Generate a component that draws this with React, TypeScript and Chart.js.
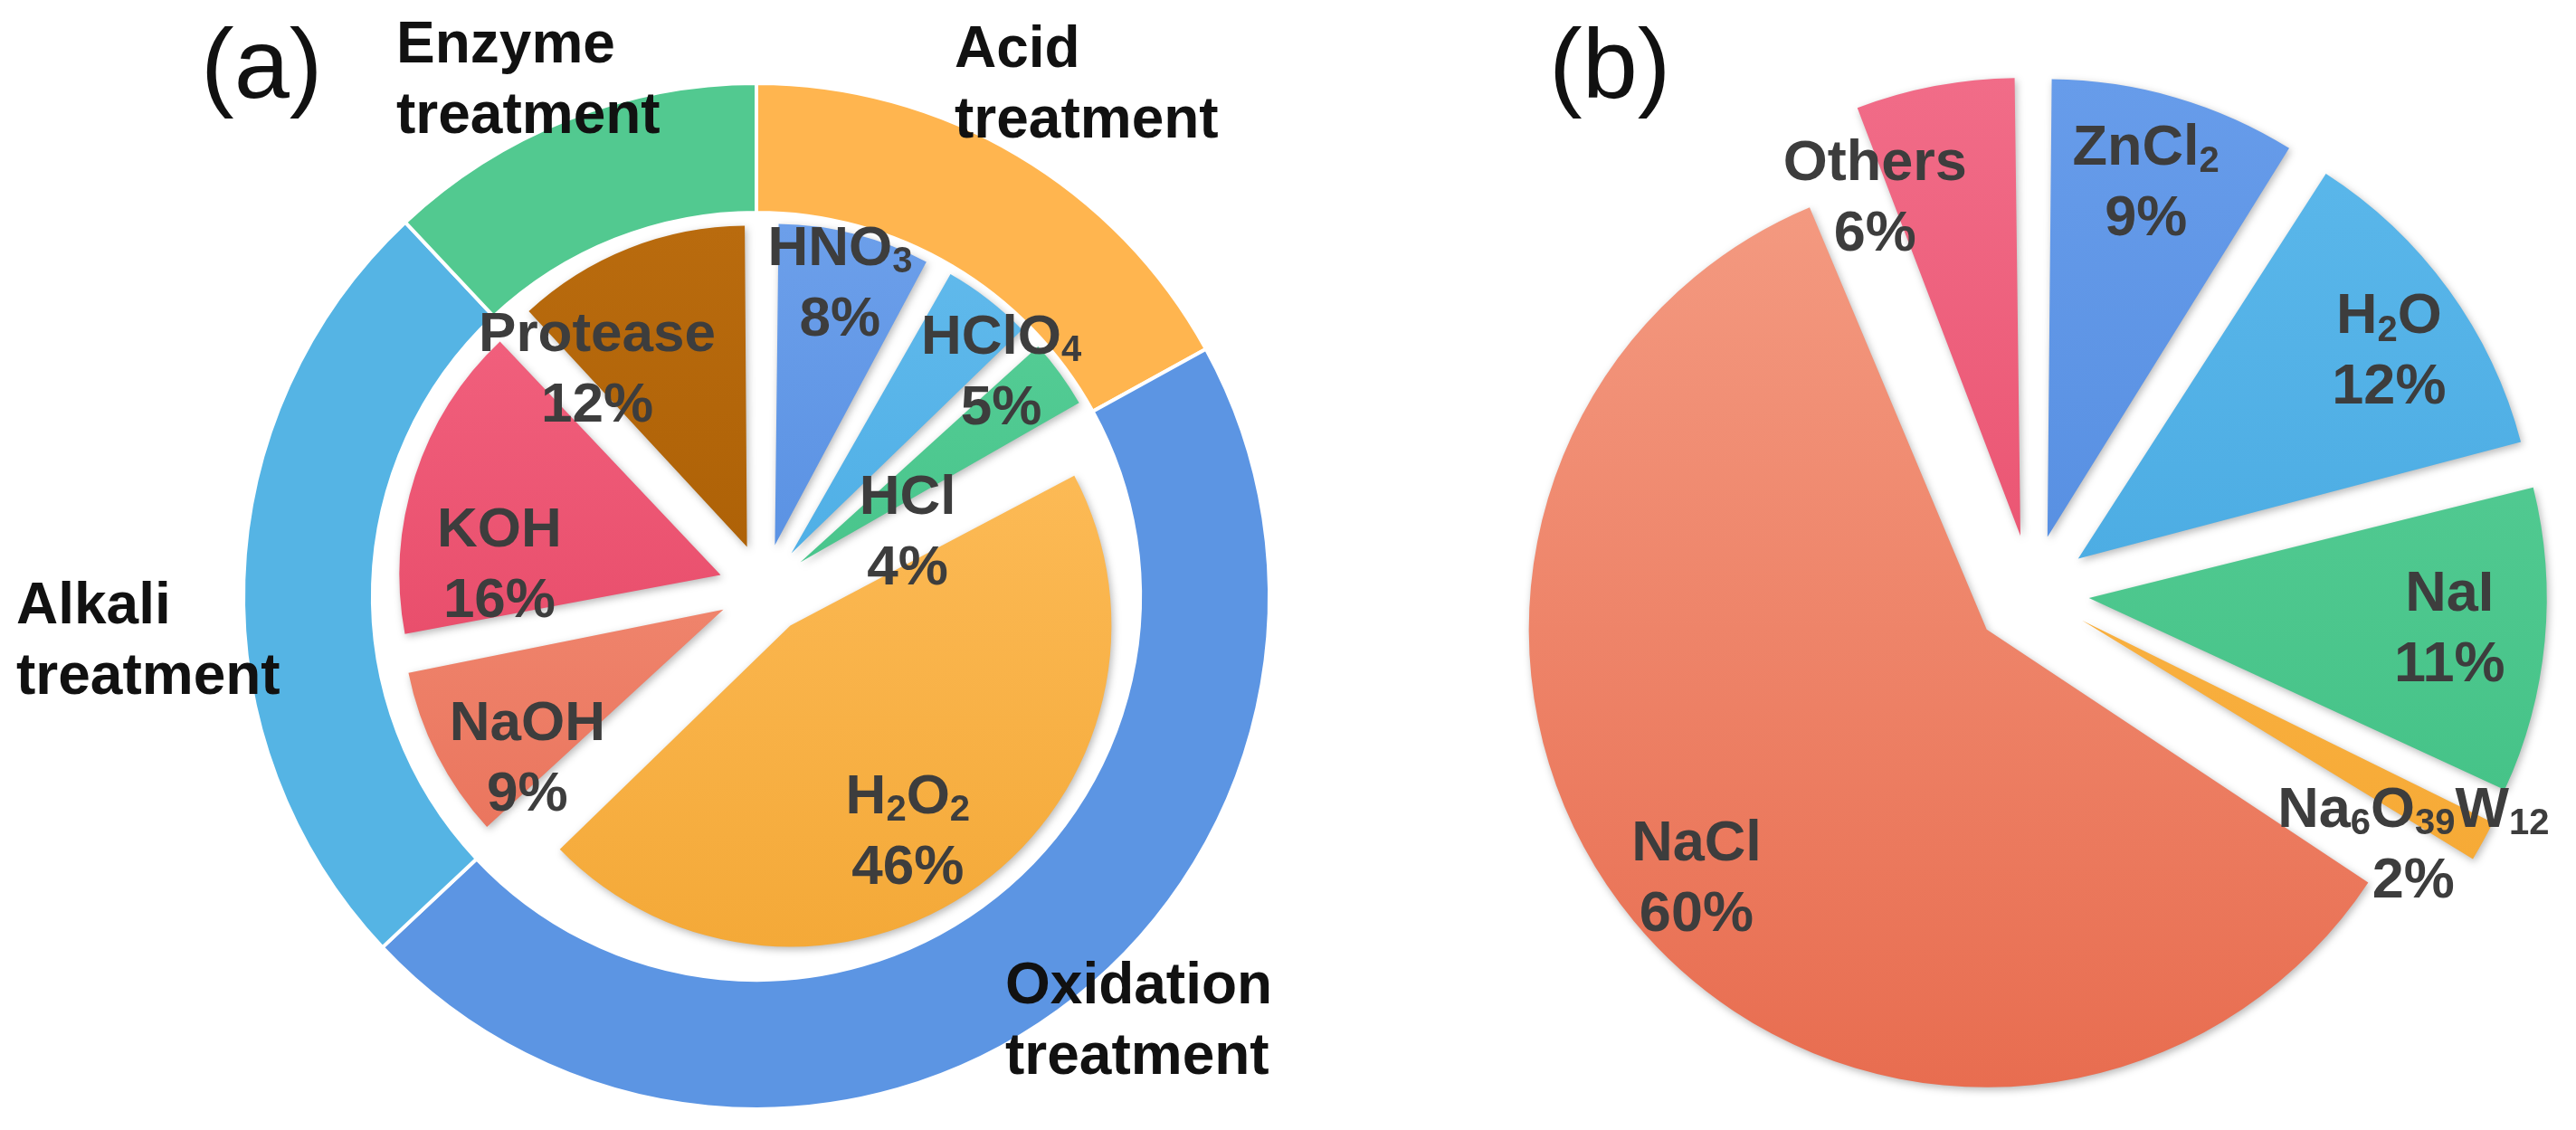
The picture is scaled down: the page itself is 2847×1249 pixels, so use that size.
import React, { useEffect, useRef } from "react";
import { Chart, registerables } from "chart.js";

Chart.register(...registerables);

const PAGE_W = 2847;
const PAGE_H = 1249;
const FONT = '"Liberation Sans", Arial, Helvetica, sans-serif';

// ---------------- data : panel (a) ----------------
const treatmentNames = ["Acid", "Oxidation", "Alkali", "Enzyme"];
const treatmentValues = [17, 46, 25, 12];
const reagentNames = ["HNO3", "HClO4", "HCl", "H2O2", "NaOH", "KOH", "Protease"];
const reagentValues = [8, 5, 4, 46, 9, 16, 12];

// ---------------- data : panel (b) ----------------
const solventNames = ["ZnCl2", "H2O", "NaI", "Na6O39W12", "NaCl", "Others"];
const solventValues = [9, 12, 11, 2, 60, 6];

const panelTitles = ["(a)", "(b)"];

// ---------------- styles ----------------
const ringColors = ["#FFB54F", "#5C95E3", "#55B4E4", "#52C990"];
const reagentColors = [
  ["#6C9FEA", "#4A86DD"],
  ["#62BAEC", "#3DA5E0"],
  ["#58CF98", "#3ABB80"],
  ["#FFC060", "#F4A938"],
  ["#F6987F", "#E86F58"],
  ["#F36481", "#E2405E"],
  ["#B96B0E", "#A45900"],
];
const solventColors = [
  ["#679CEA", "#4A85DB"],
  ["#5CB8EB", "#3EA2DC"],
  ["#5CD09A", "#3DBE81"],
  ["#FDBA50", "#F4A52E"],
  ["#F49B82", "#E86D50"],
  ["#F16C88", "#E5415F"],
];

// label placement (radial fraction of radius, angular nudge in degrees)
const reagentPlace = [
  { lr: 0.85, dA: -0.6 },
  { lr: 0.87, dA: 10.9 },
  { lr: 0.35, dA: 18.7 },
  { lr: 0.73, dA: 5.9 },
  { lr: 0.76, dA: -9.6 },
  { lr: 0.69, dA: -14.6 },
  { lr: 0.73, dA: -18.1 },
];
const solventPlace = [
  { lr: 0.81, dA: -0.8 },
  { lr: 0.82, dA: 1.9 },
  { lr: 0.79, dA: -1.1 },
  { lr: 0.87, dA: 4.9 },
  { lr: 0.83, dA: -0.6 },
  { lr: 0.81, dA: -12.3 },
];
// ring category labels: left edge / first baseline relative to ring centre
const ringLabelPlace = [
  { dx: 219, dy: -585 },
  { dx: 275, dy: 450 },
  { dx: -818, dy: 30 },
  { dx: -398, dy: -590 },
];

const OFFSET_DIV = 4; // chart.js v4 translates arcs by offset / 4

function padFor(cx: number, cy: number) {
  const s = Math.min(cx, PAGE_W - cx, cy, PAGE_H - cy);
  return { left: cx - s, right: PAGE_W - cx - s, top: cy - s, bottom: PAGE_H - cy - s };
}

function parts(s: string, chem: boolean) {
  if (!chem) return [{ t: s, sub: false }];
  return s
    .split(/(\d+)/)
    .filter((t) => t.length > 0)
    .map((t) => ({ t, sub: /^\d+$/.test(t) }));
}

function drawRich(
  ctx: CanvasRenderingContext2D,
  s: string,
  chem: boolean,
  cx: number,
  baseline: number,
  fs: number,
  color: string
) {
  const main = `bold ${fs}px ${FONT}`;
  const subF = `bold ${Math.round(fs * 0.64)}px ${FONT}`;
  const ps = parts(s, chem);
  let w = 0;
  ps.forEach((p) => {
    ctx.font = p.sub ? subF : main;
    w += ctx.measureText(p.t).width;
  });
  let x = cx - w / 2;
  ctx.textAlign = "left";
  ctx.textBaseline = "alphabetic";
  ctx.fillStyle = color;
  ps.forEach((p) => {
    ctx.font = p.sub ? subF : main;
    ctx.fillText(p.t, x, baseline + (p.sub ? fs * 0.13 : 0));
    x += ctx.measureText(p.t).width;
  });
}

function arcGeom(arc: any) {
  const p = arc.getProps(["x", "y", "startAngle", "endAngle", "outerRadius"], true);
  const off = (arc.options.offset || 0) / OFFSET_DIV;
  const circ = p.endAngle - p.startAngle;
  const fix = 1 - Math.sin(Math.min(Math.PI, circ));
  const mid = (p.startAngle + p.endAngle) / 2;
  return {
    ax: p.x + Math.cos(mid) * off,
    ay: p.y + Math.sin(mid) * off,
    R: p.outerRadius + off * fix,
    mid,
  };
}

// keeps every exploded slice at the same radius
const keepRadiusPlugin = {
  id: "keepRadius",
  afterDatasetUpdate(chart: any, args: any) {
    const meta = chart.getDatasetMeta(args.index);
    meta.data.forEach((arc: any) => {
      const off = ((arc.options && arc.options.offset) || 0) / OFFSET_DIV;
      if (!off) return;
      const circ = arc.endAngle - arc.startAngle;
      const fix = 1 - Math.sin(Math.min(Math.PI, circ));
      arc.outerRadius = arc.outerRadius - off * fix;
    });
  },
};

const shadowPlugin = {
  id: "softShadow",
  beforeDatasetDraw(chart: any, _a: any, opts: any) {
    if (!opts || !opts.on) return;
    const ctx = chart.ctx;
    ctx.save();
    ctx.shadowColor = "rgba(0,0,0,0.28)";
    ctx.shadowBlur = 9;
    ctx.shadowOffsetX = 2;
    ctx.shadowOffsetY = 3;
  },
  afterDatasetDraw(chart: any, _a: any, opts: any) {
    if (!opts || !opts.on) return;
    chart.ctx.restore();
  },
};

const sliceLabelPlugin = {
  id: "sliceLabels",
  afterDatasetsDraw(chart: any, _a: any, opts: any) {
    if (!opts || !opts.names) return;
    const ctx = chart.ctx;
    const meta = chart.getDatasetMeta(0);
    const values = chart.data.datasets[0].data;
    ctx.save();
    meta.data.forEach((arc: any, i: number) => {
      const g = arcGeom(arc);
      const pl = opts.place[i];
      const a = g.mid + (pl.dA * Math.PI) / 180;
      const cx = g.ax + Math.cos(a) * pl.lr * g.R;
      const cy = g.ay + Math.sin(a) * pl.lr * g.R;
      const capHalf = opts.fs * 0.36;
      drawRich(ctx, opts.names[i], true, cx, cy - opts.gap / 2 + capHalf, opts.fs, opts.color);
      drawRich(ctx, `${values[i]}%`, false, cx, cy + opts.gap / 2 + capHalf, opts.fs, opts.color);
    });
    ctx.restore();
  },
};

const freeTextPlugin = {
  id: "freeText",
  afterDraw(chart: any, _a: any, opts: any) {
    if (!opts || !opts.items) return;
    const ctx = chart.ctx;
    const area = chart.chartArea;
    const cx = (area.left + area.right) / 2;
    const cy = (area.top + area.bottom) / 2;
    ctx.save();
    ctx.textAlign = "left";
    ctx.textBaseline = "alphabetic";
    opts.items.forEach((it: any) => {
      ctx.font = `${it.weight} ${it.fs}px ${FONT}`;
      ctx.fillStyle = it.color;
      it.lines.forEach((ln: string, k: number) => {
        ctx.fillText(ln, cx + it.dx, cy + it.dy + k * it.gap);
      });
    });
    ctx.restore();
  },
};

const gradientFill = (pairs: string[][], radius: number) => (c: any) => {
  const chart = c.chart;
  const a = chart.chartArea;
  const pair = pairs[c.dataIndex % pairs.length];
  if (!a) return pair[0];
  const cy = (a.top + a.bottom) / 2;
  const g = chart.ctx.createLinearGradient(0, cy - radius, 0, cy + radius);
  g.addColorStop(0, pair[0]);
  g.addColorStop(1, pair[1]);
  return g;
};

const baseOptions = (padding: any) => ({
  responsive: false,
  maintainAspectRatio: false,
  animation: false as const,
  events: [] as any[],
  layout: { padding },
});

export default function App() {
  const ringRef = useRef<HTMLCanvasElement>(null);
  const innerRef = useRef<HTMLCanvasElement>(null);
  const rightRef = useRef<HTMLCanvasElement>(null);

  useEffect(() => {
    const ringR = 567;
    const innerR = 355;
    const rightR = 506;

    const ring = new Chart(ringRef.current as HTMLCanvasElement, {
      type: "doughnut",
      data: {
        labels: treatmentNames.map((n) => `${n} treatment`),
        datasets: [
          {
            data: treatmentValues,
            backgroundColor: ringColors,
            borderColor: "#ffffff",
            borderWidth: 4,
          },
        ],
      },
      options: {
        ...baseOptions(padFor(836, 659)),
        radius: ringR,
        cutout: "74.8%",
        plugins: {
          legend: { display: false },
          tooltip: { enabled: false },
          freeText: {
            items: [
              ...treatmentNames.map((n, i) => ({
                lines: [n, "treatment"],
                dx: ringLabelPlace[i].dx,
                dy: ringLabelPlace[i].dy,
                fs: 64,
                weight: "bold",
                color: "#111111",
                gap: 78,
              })),
              { lines: [panelTitles[0]], dx: -614, dy: -551, fs: 110, weight: "normal", color: "#111111", gap: 0 },
            ],
          },
        } as any,
      },
      plugins: [freeTextPlugin],
    } as any);

    const inner = new Chart(innerRef.current as HTMLCanvasElement, {
      type: "pie",
      data: {
        labels: reagentNames,
        datasets: [
          {
            data: reagentValues,
            backgroundColor: gradientFill(reagentColors, innerR),
            borderWidth: 0,
            offset: 200,
          },
        ],
      },
      options: {
        ...baseOptions(padFor(844, 651)),
        radius: innerR,
        plugins: {
          legend: { display: false },
          tooltip: { enabled: false },
          softShadow: { on: true },
          sliceLabels: { names: reagentNames, place: reagentPlace, fs: 62, gap: 78, color: "#3d3d3d" },
        } as any,
      },
      plugins: [keepRadiusPlugin, shadowPlugin, sliceLabelPlugin],
    } as any);

    const right = new Chart(rightRef.current as HTMLCanvasElement, {
      type: "pie",
      data: {
        labels: solventNames,
        datasets: [
          {
            data: solventValues,
            backgroundColor: gradientFill(solventColors, rightR),
            borderWidth: 0,
            offset: 256,
          },
        ],
      },
      options: {
        ...baseOptions(padFor(2245, 655)),
        radius: rightR,
        plugins: {
          legend: { display: false },
          tooltip: { enabled: false },
          softShadow: { on: true },
          sliceLabels: { names: solventNames, place: solventPlace, fs: 63, gap: 78, color: "#3d3d3d" },
          freeText: {
            items: [{ lines: [panelTitles[1]], dx: -533, dy: -547, fs: 110, weight: "normal", color: "#111111", gap: 0 }],
          },
        } as any,
      },
      plugins: [keepRadiusPlugin, shadowPlugin, sliceLabelPlugin, freeTextPlugin],
    } as any);

    return () => {
      ring.destroy();
      inner.destroy();
      right.destroy();
    };
  }, []);

  const cs: React.CSSProperties = { position: "absolute", left: 0, top: 0, width: PAGE_W, height: PAGE_H };
  return (
    <div style={{ position: "absolute", left: 0, top: 0, width: PAGE_W, height: PAGE_H, background: "#ffffff", overflow: "hidden" }}>
      <canvas ref={ringRef} width={PAGE_W} height={PAGE_H} style={cs} />
      <canvas ref={innerRef} width={PAGE_W} height={PAGE_H} style={cs} />
      <canvas ref={rightRef} width={PAGE_W} height={PAGE_H} style={cs} />
    </div>
  );
}
